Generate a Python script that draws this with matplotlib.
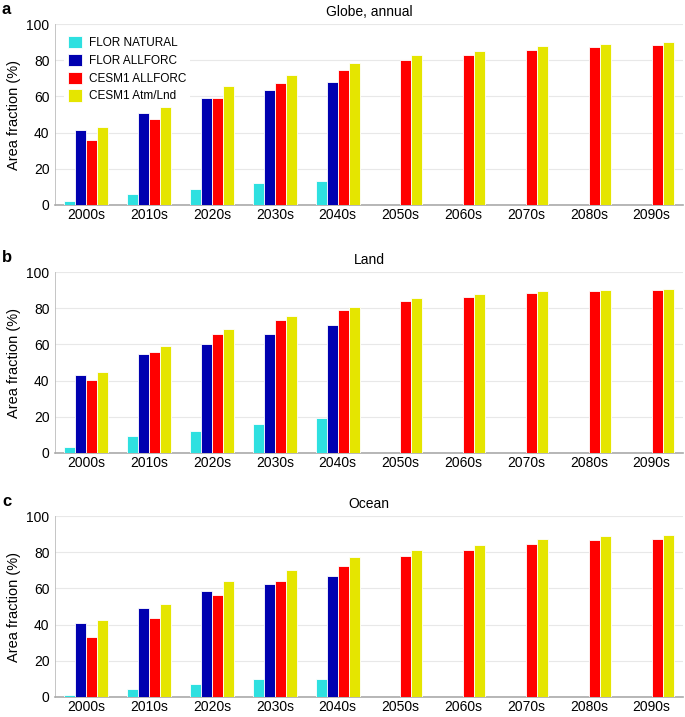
import matplotlib.pyplot as plt
import numpy as np

plt.rcParams['font.family'] = ['Liberation Sans', 'DejaVu Sans']

decades = ["2000s", "2010s", "2020s", "2030s", "2040s", "2050s", "2060s", "2070s", "2080s", "2090s"]
series = ["FLOR NATURAL", "FLOR ALLFORC", "CESM1 ALLFORC", "CESM1 Atm/Lnd"]
colors = ["#2EE0E0", "#0000B0", "#FF0000", "#E5E500"]

# FLOR runs only go to the 2040s
globe_nat = [2.2, 5.9, 8.6, 11.9, 13.0]
globe_flor = [41.6, 50.9, 59.2, 63.6, 68.1]
globe_cesm = [35.7, 47.6, 59.2, 67.2, 74.7, 80.0, 83.0, 85.9, 87.5, 88.3]
globe_atm = [43.2, 54.0, 65.8, 72.0, 78.6, 83.0, 85.2, 87.9, 89.2, 90.1]

land_nat = [3.1, 9.5, 12.0, 16.2, 19.3]
land_flor = [43.1, 54.7, 60.0, 66.0, 70.7]
land_cesm = [40.5, 55.8, 65.8, 73.6, 79.1, 84.2, 86.4, 88.4, 89.3, 90.0]
land_atm = [44.5, 59.1, 68.5, 75.5, 80.5, 85.5, 87.6, 89.3, 89.8, 90.5]

ocean_nat = [1.3, 4.6, 7.2, 9.9, 10.1]
ocean_flor = [40.9, 49.4, 58.7, 62.2, 66.7]
ocean_cesm = [33.1, 43.6, 56.4, 63.9, 72.6, 77.9, 81.2, 84.5, 86.6, 87.5]
ocean_atm = [42.4, 51.6, 64.1, 70.2, 77.2, 81.4, 84.2, 87.1, 88.8, 89.5]

panels = [
    ("a", "Globe, annual", [globe_nat, globe_flor, globe_cesm, globe_atm]),
    ("b", "Land", [land_nat, land_flor, land_cesm, land_atm]),
    ("c", "Ocean", [ocean_nat, ocean_flor, ocean_cesm, ocean_atm]),
]

fig = plt.figure(figsize=(6.85, 7.17), dpi=100)
tops = [24, 272, 516]
height = 181
width = 0.175
x = np.arange(1, len(decades) + 1)

for (letter, title, data), top in zip(panels, tops):
    ax = fig.add_axes([55 / 685, 1 - (top + height) / 717, 628 / 685, height / 717])
    for i, vals in enumerate(data):
        pos = x[:len(vals)] + (i - 1.5) * width
        ax.bar(pos, vals, width, color=colors[i], edgecolor="white", linewidth=0.6,
               label=series[i], zorder=3)
    ax.set_xlim(0.5, 10.5)
    ax.set_ylim(0, 100)
    ax.set_yticks([0, 20, 40, 60, 80, 100])
    ax.set_xticks(x)
    ax.set_xticklabels(decades)
    ax.tick_params(axis="y", length=0, labelsize=10, pad=4)
    ax.tick_params(axis="x", length=0, labelsize=10, pad=2.5)
    ax.grid(axis="y", color="#E8E8E8", linewidth=0.8, zorder=0)
    for s in ["top", "right"]:
        ax.spines[s].set_visible(False)
    ax.spines["left"].set_color("#BBBBBB")
    ax.spines["left"].set_linewidth(0.6)
    ax.spines["bottom"].set_color("#AAAAAA")
    ax.spines["bottom"].set_linewidth(1.2)
    ax.set_ylabel("Area fraction (%)", fontsize=10.5)
    ax.set_title(title, fontsize=10, pad=6)
    fig.text(2 / 685, 1 - (top - 15) / 717, letter, fontsize=12, fontweight="bold",
             va="center", ha="left")
    if letter == "a":
        leg = ax.legend(loc="upper left", bbox_to_anchor=(0.005, 0.985), frameon=True,
                        fontsize=8.5, handlelength=1.2, handleheight=1.2,
                        handletextpad=0.6, labelspacing=0.4, borderpad=0.3)
        leg.get_frame().set_edgecolor("none")
        leg.get_frame().set_facecolor("white")
        leg.get_frame().set_alpha(1)

fig.savefig("out.png", dpi=100)
